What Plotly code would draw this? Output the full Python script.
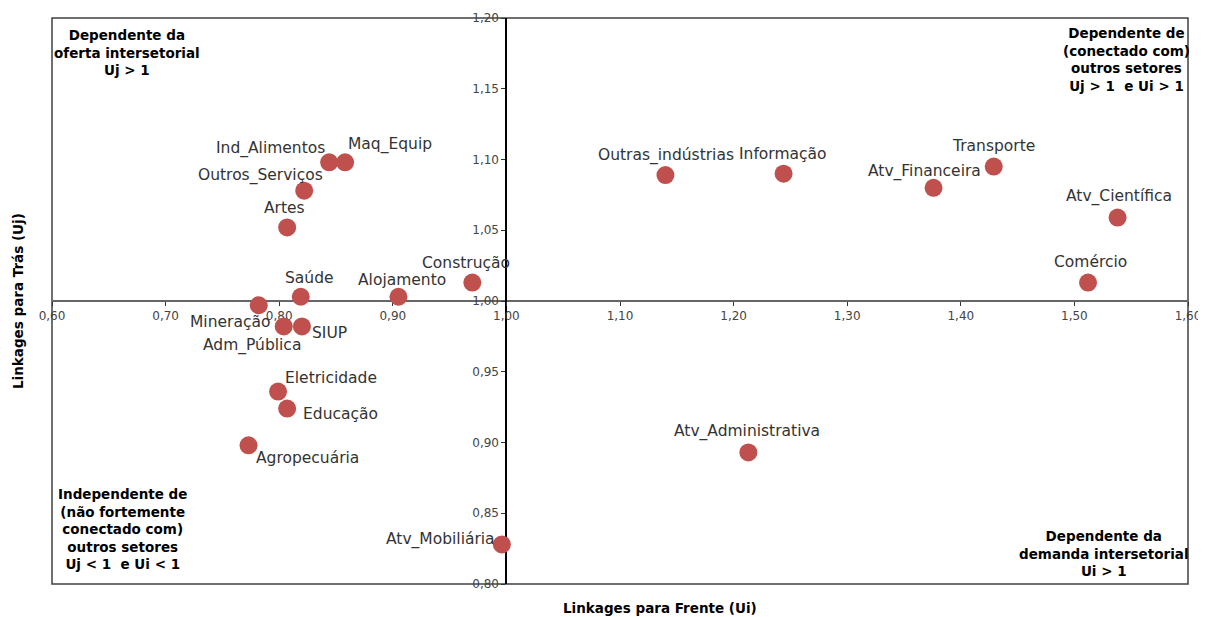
import plotly.graph_objects as go

# ---- data ----
setores = ["Ind_Alimentos", "Maq_Equip", "Outros_Serviços", "Artes", "Saúde",
           "Alojamento", "Construção", "Mineração", "Adm_Pública", "SIUP",
           "Eletricidade", "Educação", "Agropecuária", "Atv_Mobiliária",
           "Atv_Administrativa", "Outras_indústrias", "Informação",
           "Atv_Financeira", "Transporte", "Atv_Científica", "Comércio"]
ui = [0.844, 0.858, 0.822, 0.807, 0.819,
      0.905, 0.970, 0.782, 0.804, 0.820,
      0.799, 0.807, 0.773, 0.996,
      1.213, 1.140, 1.244,
      1.376, 1.429, 1.538, 1.512]
uj = [1.098, 1.098, 1.078, 1.052, 1.003,
      1.003, 1.013, 0.997, 0.982, 0.982,
      0.936, 0.924, 0.898, 0.828,
      0.893, 1.089, 1.090,
      1.080, 1.095, 1.059, 1.013]

x_ticks = [0.6, 0.7, 0.8, 0.9, 1.0, 1.1, 1.2, 1.3, 1.4, 1.5, 1.6]
y_ticks = [0.80, 0.85, 0.90, 0.95, 1.00, 1.05, 1.10, 1.15, 1.20]

quadrantes = {
    "tl": "Dependente da<br>oferta intersetorial<br>Uj > 1",
    "tr": "Dependente de<br>(conectado com)<br>outros setores<br>Uj > 1  e Ui > 1",
    "bl": "Independente de<br>(não fortemente<br>conectado com)<br>outros setores<br>Uj < 1  e Ui < 1",
    "br": "Dependente da<br>demanda intersetorial<br>Ui > 1",
}
titulo_x = "Linkages para Frente (Ui)"
titulo_y = "Linkages para Trás (Uj)"

# label offsets in pixels (dx right, dy up)
label_offsets = {
    "Ind_Alimentos": (-59, 14), "Maq_Equip": (45, 18), "Outros_Serviços": (-44, 15),
    "Artes": (-3, 19), "Saúde": (9, 19), "Alojamento": (4, 17), "Construção": (-6, 20),
    "Mineração": (-29, -17), "Adm_Pública": (-32, -19), "SIUP": (28, -7),
    "Eletricidade": (53, 14), "Educação": (53, -5), "Agropecuária": (59, -13),
    "Atv_Mobiliária": (-61, 5), "Atv_Administrativa": (-1, 21),
    "Outras_indústrias": (1, 20), "Informação": (-1, 20), "Atv_Financeira": (-9, 16),
    "Transporte": (0, 21), "Atv_Científica": (1, 21), "Comércio": (2, 21),
}

FONT = "DejaVu Sans"

fig = go.Figure()
fig.add_trace(go.Scatter(
    x=ui, y=uj, mode="markers",
    marker=dict(color="#C0504D", size=18, line=dict(width=0)),
    hovertext=setores, hoverinfo="text+x+y", showlegend=False,
))

annotations = []
for name, xv, yv in zip(setores, ui, uj):
    dx, dy = label_offsets[name]
    annotations.append(dict(x=xv, y=yv, xref="x", yref="y", text=name,
                            showarrow=False, xshift=dx, yshift=dy,
                            font=dict(family=FONT, size=15.5, color="#333333")))

qfont = dict(family=FONT, size=13.5, color="#000000")
annotations += [
    dict(x=0.066, y=0.988, xref="paper", yref="paper", text="<b>" + quadrantes["tl"] + "</b>",
         showarrow=False, xanchor="center", yanchor="top", align="center", font=qfont),
    dict(x=0.946, y=0.992, xref="paper", yref="paper", text="<b>" + quadrantes["tr"] + "</b>",
         showarrow=False, xanchor="center", yanchor="top", align="center", font=qfont),
    dict(x=0.062, y=0.017, xref="paper", yref="paper", text="<b>" + quadrantes["bl"] + "</b>",
         showarrow=False, xanchor="center", yanchor="bottom", align="center", font=qfont),
    dict(x=0.926, y=0.006, xref="paper", yref="paper", text="<b>" + quadrantes["br"] + "</b>",
         showarrow=False, xanchor="center", yanchor="bottom", align="center", font=qfont),
    dict(x=0.535, y=0, xref="paper", yref="paper", yshift=-24, text="<b>" + titulo_x + "</b>",
         showarrow=False, xanchor="center", yanchor="middle", font=qfont),
    dict(x=0, y=0.5, xref="paper", yref="paper", xshift=-34, text="<b>" + titulo_y + "</b>",
         showarrow=False, textangle=-90, xanchor="center", yanchor="middle", font=qfont),
]

# the page body adds an 8px margin; size the figure so the plot area lands
# at x 52..1188, y 18..584 in the browser window
fig.update_layout(
    width=1198, height=609,
    margin=dict(l=44, r=18, t=10, b=33, autoexpand=False),
    paper_bgcolor="white", plot_bgcolor="white",
    separators=",.",
    annotations=annotations,
    xaxis=dict(range=[0.6, 1.6], tickvals=x_ticks, tickformat=".2f", automargin=False,
               anchor="free", position=0.5, showgrid=False, zeroline=False,
               showline=True, linecolor="#666666", linewidth=1.5, layer="below traces",
               ticks="outside", ticklen=4, tickcolor="#333333",
               tickfont=dict(family=FONT, size=12, color="#444444")),
    yaxis=dict(range=[0.8, 1.2], tickvals=y_ticks, tickformat=".2f", automargin=False,
               anchor="free", position=0.4, showgrid=False, zeroline=False,
               showline=True, linecolor="#000000", linewidth=2, layer="below traces",
               ticks="outside", ticklen=4, tickcolor="#333333",
               tickfont=dict(family=FONT, size=12, color="#444444")),
    shapes=[dict(type="rect", xref="paper", yref="paper", x0=0, y0=0, x1=1, y1=1,
                 line=dict(color="#404040", width=1.5), layer="below")],
)

fig.write_html("out.html")
